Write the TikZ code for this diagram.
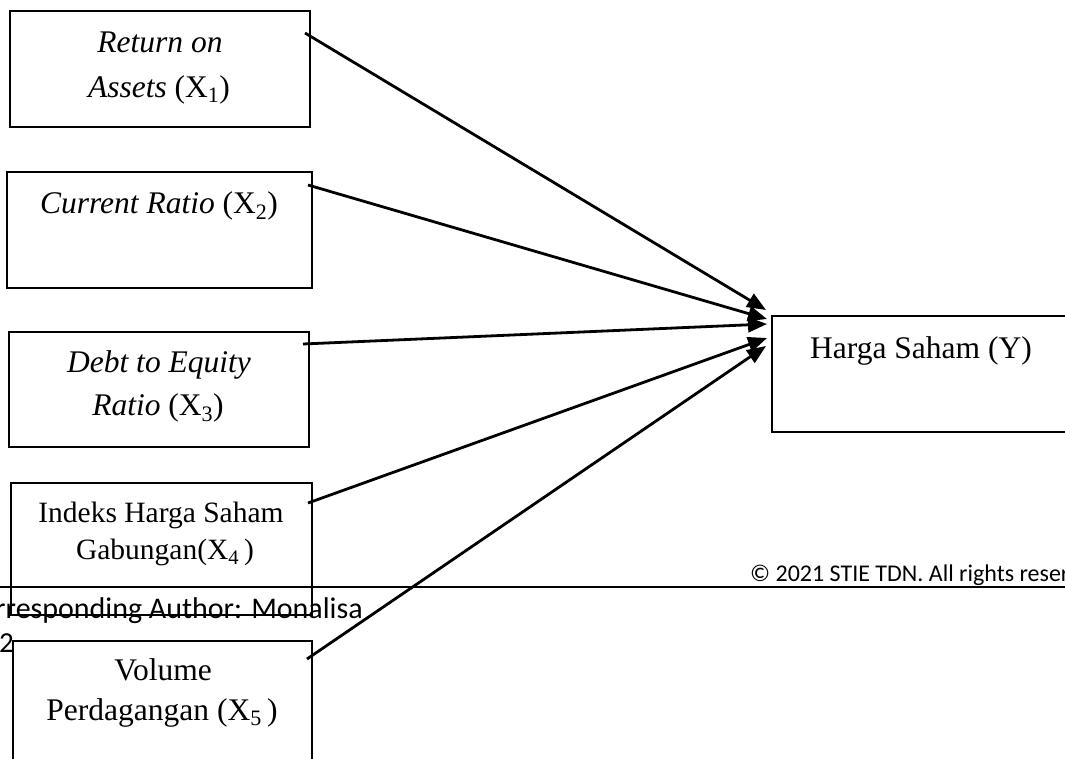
\documentclass[tikz,border=0pt]{standalone}
\usepackage{fontspec}
\setmainfont{Liberation Serif}
\newfontfamily\footfont{Carlito}
\usetikzlibrary{arrows.meta}
\newcommand\sbs[1]{\textsubscript{#1}}
\begin{document}
\begin{tikzpicture}[x=1pt,y=-1pt,
  box/.style={draw, line width=1.8pt, inner sep=0pt, outer sep=0pt, anchor=north west},
  lbl/.style={anchor=base, inner sep=0pt, font=\fontsize{31.5}{37}\selectfont},
  lbls/.style={anchor=base, inner sep=0pt, font=\fontsize{29.5}{35}\selectfont},
  conn/.style={line width=2.8pt, -{Triangle[length=19pt,width=15pt]}},
  foot/.style={anchor=base west, inner sep=0pt}]
\clip (0,0) rectangle (1065,758);
% boxes
\node[box, minimum width=300pt, minimum height=116pt] (b1) at (10,11) {};
\node[box, minimum width=305pt, minimum height=116pt] (b2) at (7,172) {};
\node[box, minimum width=300pt, minimum height=115pt] (b3) at (9,332) {};
\node[box, minimum width=301pt, minimum height=132pt] (b4) at (11,483) {};
\node[box, minimum width=299pt, minimum height=150pt] (b5) at (13,641) {};
\node[box, minimum width=308pt, minimum height=116pt] (by) at (772,316) {};
% labels
\node[lbl] (t1a) at (160,52) {\textit{Return on}};
\node[lbl] (t1b) at (159,97) {\textit{Assets} (X\sbs{1})};
\node[lbl] (t2) at (159,213) {\textit{Current Ratio} (X\sbs{2})};
\node[lbl] (t3a) at (159,372) {\textit{Debt to Equity}};
\node[lbl] (t3b) at (158,415) {\textit{Ratio} (X\sbs{3})};
\node[lbls] (t4a) at (161,522) {Indeks Harga Saham};
\node[lbls] (t4b) at (165,559) {Gabungan(X\sbs{4}\,)};
\node[lbl] (t5a) at (163,680) {Volume};
\node[lbl] (t5b) at (162,720) {Perdagangan (X\sbs{5}\,)};
\node[lbl] (ty) at (921,358) {Harga Saham (Y)};
% connector endpoints
\coordinate (s1) at (305,33);
\coordinate (s2) at (308,185);
\coordinate (s3) at (303,344);
\coordinate (s4) at (308,503);
\coordinate (s5) at (307,659);
\coordinate (e1) at (766,310);
\coordinate (e2) at (767,319);
\coordinate (e3) at (767,324);
\coordinate (e4) at (767,338);
\coordinate (e5) at (766,346);
\draw[conn] (s1) -- (e1);
\draw[conn] (s2) -- (e2);
\draw[conn] (s3) -- (e3);
\draw[conn] (s4) -- (e4);
\draw[conn] (s5) -- (e5);
% footer overlay
\coordinate (hl) at (0,587);
\coordinate (hr) at (1065,587);
\draw[line width=1.6pt] (hl) -- (hr);
\node[foot, font=\footfont\fontsize{24}{28}\selectfont] (cr) at (750,581) {© 2021 STIE TDN. All rights reser};
\node[foot, font=\footfont\fontsize{30}{34}\selectfont] (ca) at (-5,618) {rresponding Author: Monalisa};
\node[foot, font=\footfont\fontsize{29}{34}\selectfont] (pg) at (-1,652) {2};
\end{tikzpicture}
\end{document}
